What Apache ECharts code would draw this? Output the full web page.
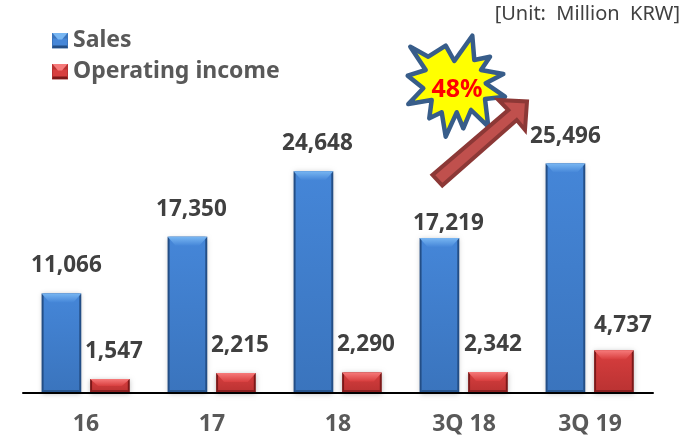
<!DOCTYPE html>
<html lang="en">
<head>
    <meta charset="UTF-8">
    <script src="https://cdn.jsdelivr.net/npm/echarts@6/dist/echarts.min.js"></script>
    <style>
        html, body { margin: 0; padding: 0; background: #fff; }
        #chart { width: 698px; height: 437px; }
    </style>
</head>
<body>
<div id="chart"></div>
<script>
    var categories = ['16', '17', '18', '3Q 18', '3Q 19'];
    var sales = [11066, 17350, 24648, 17219, 25496];
    var operatingIncome = [1547, 2215, 2290, 2342, 4737];

    // label nudges, the source labels were placed by hand
    var salesLabelShift = [[5, 0], [4, 0], [4, 0], [9, 13], [0, 1]];
    var incomeLabelShift = [[4, 0], [4, 0], [4, 0], [5, 0], [9, 3]];

    var FONT = '"Noto Sans", sans-serif';

    var BLUE = {top: '#78b6f2', light: '#4586d8', mid: '#3a74bd', side: '#234e86', bottom: '#28568f'};
    var RED = {top: '#f67a7a', light: '#d83e3e', mid: '#b93232', side: '#7d1818', bottom: '#8c2020'};

    function fmt(n) {
        return String(n).replace(/\B(?=(\d{3})+$)/g, ',');
    }

    function poly(points, fill) {
        return {type: 'polygon', shape: {points: points}, style: {fill: fill}};
    }

    // bevelled bar, positions come from the axis scales
    function bevelBar(colors, offset, shifts) {
        return function (params, api) {
            var idx = api.value(0);
            var val = api.value(1);
            var band = api.size([1, 0])[0];
            var w = band * 0.315;
            var top = api.coord([idx, val]);
            var base = api.coord([idx, 0]);
            var x0 = top[0] + band * offset - w / 2;
            var x1 = x0 + w;
            var y0 = top[1];
            var y1 = base[1];
            var e = 2;
            var b = Math.min(9, (y1 - y0) * 0.5);
            var s = shifts[idx];
            return {
                type: 'group',
                children: [
                    {
                        type: 'rect',
                        shape: {x: x0, y: y0, width: w, height: y1 - y0},
                        style: {
                            fill: colors.side,
                            shadowBlur: 5,
                            shadowColor: 'rgba(0,0,0,0.25)',
                            shadowOffsetY: 1
                        }
                    },
                    {
                        type: 'rect',
                        shape: {x: x0 + e, y: y0, width: w - 2 * e, height: y1 - y0},
                        style: {
                            fill: new echarts.graphic.LinearGradient(0, 0, 0, 1, [
                                {offset: 0, color: colors.light},
                                {offset: 1, color: colors.mid}
                            ])
                        }
                    },
                    {
                        type: 'polygon',
                        shape: {points: [[x0, y0], [x1, y0], [x1 - 8, y0 + b], [x0 + 8, y0 + b]]},
                        style: {
                            fill: new echarts.graphic.LinearGradient(0, 0, 0, 1, [
                                {offset: 0, color: colors.top},
                                {offset: 1, color: colors.light}
                            ])
                        }
                    },
                    poly([[x0, y1], [x1, y1], [x1 - e, y1 - 3], [x0 + e, y1 - 3]], colors.bottom),
                    {
                        type: 'text',
                        x: top[0] + band * offset + s[0],
                        y: y0 - 16 + s[1],
                        style: {
                            text: fmt(val),
                            font: 'bold 22.5px ' + FONT,
                            fill: '#404040',
                            textAlign: 'center',
                            textVerticalAlign: 'bottom'
                        }
                    }
                ]
            };
        };
    }

    function legendIcon(c) {
        var svg = '<svg xmlns="http://www.w3.org/2000/svg" width="16" height="16">' +
            '<rect width="16" height="16" fill="' + c.mid + '"/>' +
            '<rect x="1" y="6" width="14" height="8" fill="' + c.light + '"/>' +
            '<polygon points="0,0 16,0 10,7 6,7" fill="' + c.top + '"/>' +
            '<polygon points="0,16 16,16 15,13 1,13" fill="' + c.side + '"/></svg>';
        return 'image://data:image/svg+xml;charset=utf-8,' + encodeURIComponent(svg);
    }

    var chart = echarts.init(document.getElementById('chart'), null, {renderer: 'canvas'});

    chart.setOption({
        animation: false,
        backgroundColor: '#ffffff',
        grid: {left: 23, right: 45, top: 33, bottom: 44},
        legend: {
            left: 47,
            top: 20,
            orient: 'vertical',
            itemWidth: 16,
            itemHeight: 16,
            itemGap: 0,
            textStyle: {
                fontFamily: FONT,
                fontWeight: 'bold',
                fontSize: 23,
                color: '#595959',
                lineHeight: 31
            },
            data: [
                {name: 'Sales', icon: legendIcon(BLUE)},
                {name: 'Operating income', icon: legendIcon(RED)}
            ]
        },
        xAxis: {
            type: 'category',
            data: categories,
            z: 5,
            axisTick: {show: false},
            axisLine: {lineStyle: {color: '#000000', width: 2}},
            axisLabel: {
                fontFamily: FONT,
                fontWeight: 'bold',
                fontSize: 23,
                color: '#595959',
                margin: 20
            }
        },
        yAxis: {type: 'value', min: 0, max: 40000, show: false},
        series: [
            {
                name: 'Sales',
                type: 'custom',
                itemStyle: {color: BLUE.mid},
                encode: {x: 0, y: 1},
                data: sales.map(function (v, i) { return [i, v]; }),
                renderItem: bevelBar(BLUE, -0.195, salesLabelShift)
            },
            {
                name: 'Operating income',
                type: 'custom',
                itemStyle: {color: RED.mid},
                encode: {x: 0, y: 1},
                data: operatingIncome.map(function (v, i) { return [i, v]; }),
                renderItem: bevelBar(RED, 0.19, incomeLabelShift)
            }
        ],
        graphic: [
            {
                type: 'text',
                right: 18,
                top: 4,
                style: {
                    text: '[Unit:  Million  KRW]',
                    font: '20px ' + FONT,
                    fill: '#404040'
                }
            },
            {
                type: 'polygon',
                z: 10,
                shape: {points: [
                    [410.3, 46.7], [428.3, 56.7], [445.7, 45.7], [454.3, 61], [472.3, 35.7], [474.3, 60],
                    [490, 56.7], [481, 70], [503.3, 74], [485.7, 83.3], [505, 96.7], [485, 99],
                    [488.3, 126.7], [471, 110], [463.3, 128.3], [456.7, 112.3], [445.7, 136.7], [441.7, 112.3],
                    [429.3, 118.3], [431.7, 100], [408.3, 104], [423.3, 88.3], [407.7, 75.7], [425.7, 70]
                ]},
                style: {fill: '#ffff00', stroke: '#385d8a', lineWidth: 4.5, lineJoin: 'round'}
            },
            {
                type: 'text',
                z: 11,
                x: 457,
                y: 90,
                style: {
                    text: '48%',
                    font: 'bold 25px ' + FONT,
                    fill: '#ff0000',
                    textAlign: 'center',
                    textVerticalAlign: 'middle'
                }
            },
            {
                type: 'polygon',
                z: 12,
                shape: {points: [
                    [432.5, 175], [442.3, 185.5], [516.7, 120], [525, 130], [527, 101.5], [498.5, 100], [508.3, 110]
                ]},
                style: {fill: '#c0504d', stroke: '#8c3836', lineWidth: 4, lineJoin: 'miter'}
            }
        ]
    });
</script>
</body>
</html>
